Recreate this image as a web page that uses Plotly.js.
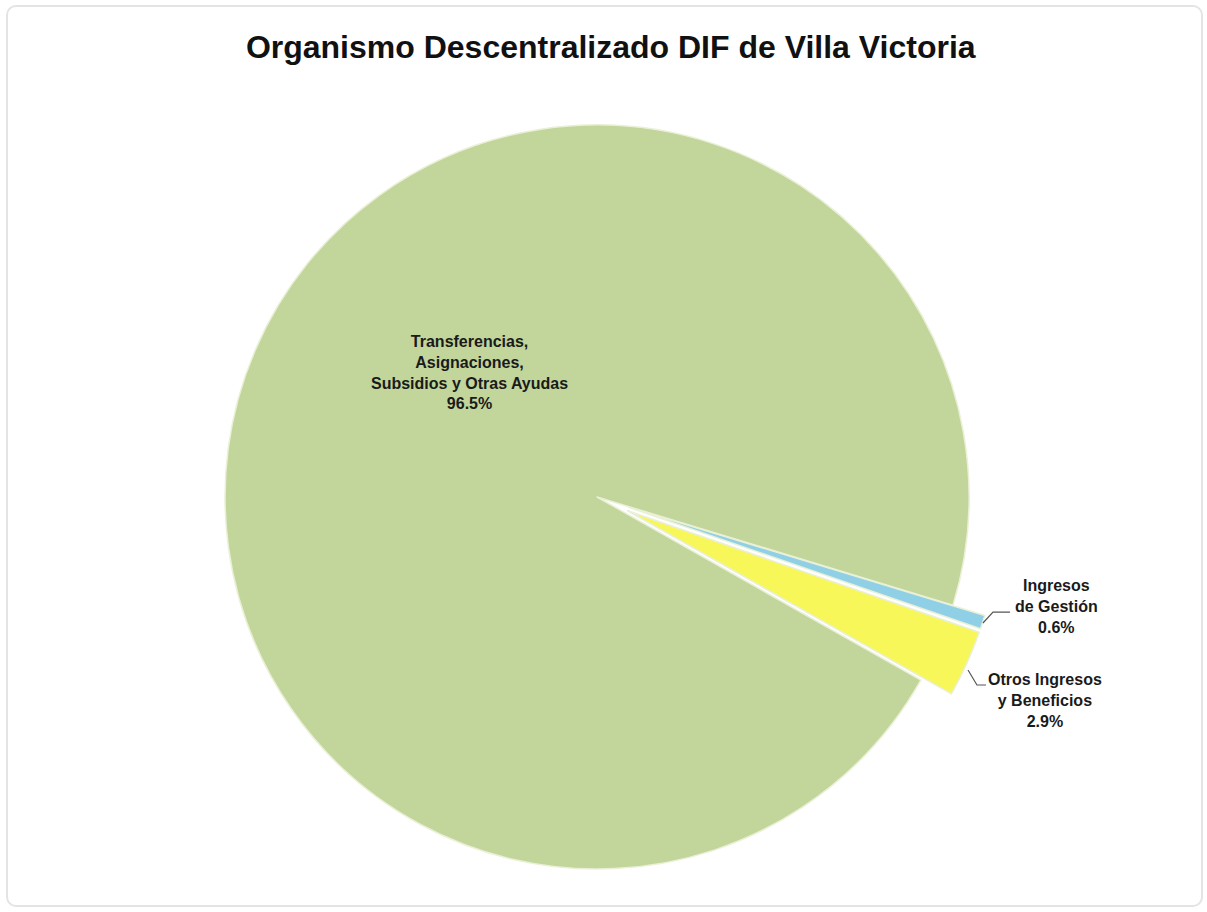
<!DOCTYPE html>
<html><head><meta charset="utf-8">
<script src="https://cdn.plot.ly/plotly-3.0.1.min.js"></script>
<style>
html,body{margin:0;padding:0;background:#fff;}
#wrap{position:relative;width:1207px;height:912px;}
#chart{width:1207px;height:912px;}
#frame{position:absolute;left:6px;top:5px;width:1193px;height:898px;border:2px solid #e4e4e4;border-radius:10px;pointer-events:none;}
</style></head>
<body>
<div id="wrap"><div id="chart"></div><div id="frame"></div></div>
<script>
const labels = ["Transferencias,<br>Asignaciones,<br>Subsidios y Otras Ayudas", "Ingresos<br>de Gestión", "Otros Ingresos<br>y Beneficios"];
const values = [96.5, 0.6, 2.9];
const colors = ["#c2d59a", "#8fd0e6", "#f7f75a"];
const pulls = [0, 0.09, 0.09];

// label placement (paper fractions) – layout only
const labelPos = [[0.3886, 0.592], [0.8757, 0.3355], [0.8658, 0.2314]];

const W = 1207, H = 912;
const lblFont = {family: 'Liberation Sans Narrow, Arial Narrow, Liberation Sans, Arial', size: 16, color: '#1a1a1a', weight: 'bold'};

const annotations = labels.map((l, i) => ({
  xref: 'paper', yref: 'paper', x: labelPos[i][0], y: labelPos[i][1],
  xanchor: 'center', yanchor: 'middle', showarrow: false,
  text: l + '<br>' + values[i].toFixed(1) + '%', font: lblFont, align: 'center'
}));

function P(px, py) { return (px / W).toFixed(4) + ',' + (1 - py / H).toFixed(4); }
const shapes = [
  {type: 'path', xref: 'paper', yref: 'paper', path: 'M' + P(983, 623) + ' L' + P(993, 612) + ' L' + P(1010, 612),
   line: {color: '#555', width: 1.2}},
  {type: 'path', xref: 'paper', yref: 'paper', path: 'M' + P(968, 670) + ' L' + P(977, 685) + ' L' + P(986, 685),
   line: {color: '#555', width: 1.2}}
];

Plotly.newPlot('chart', [{
  type: 'pie',
  labels: labels,
  values: values,
  sort: false,
  direction: 'clockwise',
  rotation: 119.5,
  pull: pulls,
  domain: {x: [0.1587, 0.8306], y: [0.0104, 0.8997]},
  marker: {colors: colors, line: {color: '#e9f0d6', width: 1.5}},
  textinfo: 'none',
  showlegend: false,
  hoverinfo: 'label+percent'
}], {
  width: W, height: H,
  margin: {l: 0, r: 0, t: 0, b: 0},
  paper_bgcolor: '#ffffff',
  title: {text: 'Organismo Descentralizado DIF de Villa Victoria', xref: 'paper', x: 0.506, xanchor: 'center', y: 0.9485, yanchor: 'middle',
          font: {family: 'Liberation Sans, Arial', size: 32, color: '#111', weight: 'bold'}},
  annotations: annotations,
  shapes: shapes,
  showlegend: false
}, {displayModeBar: false});
</script>
</body></html>
